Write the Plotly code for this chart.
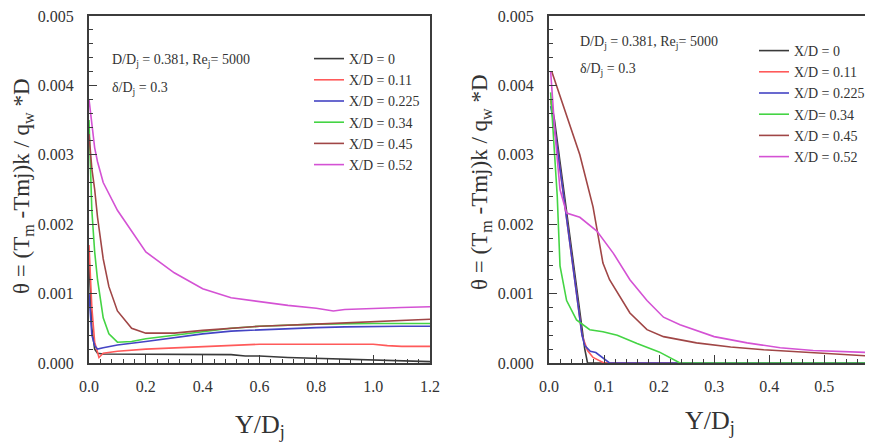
import plotly.graph_objects as go

# ---------------- data ----------------
series_names = ["X/D = 0", "X/D = 0.11", "X/D = 0.225", "X/D = 0.34", "X/D = 0.45", "X/D = 0.52"]
series_names_right = ["X/D = 0", "X/D = 0.11", "X/D = 0.225", "X/D= 0.34", "X/D = 0.45", "X/D = 0.52"]
colors = ["#3a3a3a", "#ff5a5a", "#4444c4", "#44d444", "#a04646", "#d452d4"]

# Left panel (Y/Dj 0 - 1.2)
L0_x = [0, 0.005, 0.01, 0.02, 0.03, 0.05, 0.1, 0.2, 0.3, 0.4, 0.5, 0.55, 0.6, 0.7, 0.8, 0.9, 1.0, 1.1, 1.2]
L0_y = [0.0015, 0.0009, 0.0005, 0.0002, 0.00014, 0.00013, 0.00013, 0.00013, 0.00013, 0.00012, 0.00012,
        0.0001, 0.0001, 0.00008, 0.00007, 0.00005, 0.00004, 0.00003, 0.00002]
L1_x = [0, 0.005, 0.01, 0.02, 0.035, 0.05, 0.08, 0.1, 0.2, 0.3, 0.4, 0.5, 0.6, 0.7, 0.8, 0.9, 1.0, 1.05, 1.1, 1.2]
L1_y = [0.0017, 0.0012, 0.0008, 0.0003, 0.00008, 0.00014, 0.00016, 0.00017, 0.0002, 0.00022, 0.00024,
        0.00025, 0.00027, 0.00027, 0.00027, 0.00027, 0.00027, 0.00025, 0.00024, 0.00024]
L2_x = [0, 0.005, 0.01, 0.02, 0.03, 0.05, 0.1, 0.2, 0.3, 0.4, 0.5, 0.6, 0.7, 0.8, 0.9, 1.0, 1.1, 1.2]
L2_y = [0.001, 0.0007, 0.0004, 0.00025, 0.0002, 0.00022, 0.00026, 0.00031, 0.00037, 0.00042, 0.00046,
        0.00048, 0.0005, 0.00051, 0.00052, 0.00053, 0.00053, 0.00053]
L3_x = [0, 0.005, 0.01, 0.02, 0.03, 0.05, 0.07, 0.1, 0.15, 0.2, 0.3, 0.4, 0.5, 0.6, 0.8, 1.0, 1.2]
L3_y = [0.0035, 0.0028, 0.0022, 0.0016, 0.0012, 0.00065, 0.00042, 0.0003, 0.00031, 0.00035, 0.0004,
        0.00046, 0.0005, 0.00053, 0.00056, 0.00057, 0.00057]
L4_x = [0, 0.005, 0.01, 0.02, 0.03, 0.05, 0.07, 0.1, 0.15, 0.2, 0.3, 0.4, 0.5, 0.6, 0.8, 1.0, 1.2]
L4_y = [0.0033, 0.003, 0.0028, 0.0025, 0.0021, 0.0015, 0.0011, 0.00075, 0.0005, 0.00043, 0.00043,
        0.00047, 0.0005, 0.00053, 0.00056, 0.0006, 0.00063]
L5_x = [0, 0.01, 0.02, 0.03, 0.05, 0.1, 0.15, 0.2, 0.3, 0.4, 0.5, 0.6, 0.7, 0.8, 0.86, 0.9, 1.0, 1.1, 1.2]
L5_y = [0.0038, 0.0034, 0.0031, 0.0029, 0.0026, 0.0022, 0.0019, 0.0016, 0.0013, 0.00107, 0.00094,
        0.00088, 0.00083, 0.00079, 0.00075, 0.00077, 0.00079, 0.0008, 0.00081]

# Right panel (Y/Dj 0 - 0.585)
R0_x = [0.003, 0.01, 0.02, 0.03, 0.04, 0.05, 0.06, 0.065, 0.07, 0.1, 0.585]
R0_y = [0.0038, 0.0035, 0.0029, 0.0023, 0.0017, 0.0011, 0.0005, 0.0002, 0.0, 0.0, 0.0]
R1_x = [0.003, 0.01, 0.02, 0.03, 0.04, 0.05, 0.06, 0.07, 0.08, 0.1, 0.585]
R1_y = [0.0038, 0.0034, 0.0028, 0.0022, 0.0016, 0.001, 0.0004, 0.00018, 0.00008, 0.0, 0.0]
R2_x = [0.003, 0.01, 0.02, 0.03, 0.04, 0.05, 0.06, 0.065, 0.075, 0.085, 0.1, 0.11, 0.585]
R2_y = [0.0037, 0.0034, 0.0028, 0.0022, 0.0016, 0.001, 0.0004, 0.00025, 0.00017, 0.00015, 0.00006, 0.0, 0.0]
R3_x = [0.003, 0.01, 0.015, 0.02, 0.032, 0.05, 0.074, 0.098, 0.124, 0.16, 0.2, 0.238, 0.585]
R3_y = [0.0039, 0.0031, 0.0024, 0.0014, 0.0009, 0.00062, 0.00048, 0.00045, 0.0004, 0.00028, 0.00016, 0.0, 0.0]
R4_x = [0.005, 0.056, 0.08, 0.098, 0.11, 0.147, 0.178, 0.208, 0.268, 0.33, 0.39, 0.45, 0.51, 0.585]
R4_y = [0.0042, 0.003, 0.00225, 0.00144, 0.0012, 0.00072, 0.00048, 0.00038, 0.00029, 0.00023, 0.00019,
        0.00016, 0.00014, 0.0001]
R5_x = [0.003, 0.011, 0.02, 0.032, 0.056, 0.087, 0.117, 0.147, 0.178, 0.208, 0.238, 0.3, 0.36, 0.42, 0.48, 0.585]
R5_y = [0.0042, 0.0033, 0.0025, 0.00216, 0.0021, 0.0019, 0.00158, 0.0012, 0.0009, 0.00066, 0.00055,
        0.00038, 0.00029, 0.00022, 0.00018, 0.00015]

left_series = [(L0_x, L0_y), (L1_x, L1_y), (L2_x, L2_y), (L3_x, L3_y), (L4_x, L4_y), (L5_x, L5_y)]
right_series = [(R0_x, R0_y), (R1_x, R1_y), (R2_x, R2_y), (R3_x, R3_y), (R4_x, R4_y), (R5_x, R5_y)]

# page body has an 8px margin; the figure fills the rest of the 873x447 window
OFF = 8
W, H = 873 - OFF, 447 - OFF
FONT = "Liberation Serif, Times New Roman, serif"
AX = "#3c3c3c"
TXT = "#333333"

fig = go.Figure()
for (x, y), name, c in zip(left_series, series_names, colors):
    fig.add_trace(go.Scatter(x=x, y=y, mode="lines", name=name, line=dict(color=c, width=1.6),
                             xaxis="x", yaxis="y", legend="legend"))
for (x, y), name, c in zip(right_series, series_names_right, colors):
    fig.add_trace(go.Scatter(x=x, y=y, mode="lines", name=name, line=dict(color=c, width=1.6),
                             xaxis="x2", yaxis="y2", legend="legend2"))

def px(v):
    return (v - OFF) / W

def py(v):
    return 1 - (v - OFF) / H

common = dict(showline=True, linecolor=AX, linewidth=2, mirror=True, ticks="inside",
              tickcolor=AX, tickwidth=1.2, ticklen=8, showgrid=False, zeroline=False,
              automargin=False, ticklabeloverflow="allow",
              tickfont=dict(family=FONT, size=16, color=TXT))

ydom = [py(363), py(16)]
fig.update_layout(
    template="none",
    width=W, height=H, margin=dict(l=0, r=0, t=0, b=0, pad=0),
    paper_bgcolor="white", plot_bgcolor="white", showlegend=True,
    xaxis=dict(domain=[px(89), px(430)], range=[0, 1.2], dtick=0.2, tickformat=".1f",
               ticklabelstandoff=8,
               minor=dict(dtick=0.04, ticks="inside", ticklen=4, tickcolor=AX), anchor="y", **common),
    yaxis=dict(domain=ydom, range=[0, 0.005], dtick=0.001, tickformat=".3f",
               ticklabelstandoff=10,
               minor=dict(dtick=0.0002, ticks="inside", ticklen=4, tickcolor=AX), anchor="x", **common),
    xaxis2=dict(domain=[px(549), px(871)], range=[0, 0.585], dtick=0.1, tickformat=".1f",
                ticklabelstandoff=8,
                minor=dict(dtick=0.02, ticks="inside", ticklen=4, tickcolor=AX), anchor="y2", **common),
    yaxis2=dict(domain=ydom, range=[0, 0.005], dtick=0.001, tickformat=".3f",
                ticklabelstandoff=10,
                minor=dict(dtick=0.0002, ticks="inside", ticklen=4, tickcolor=AX), anchor="x2", **common),
    legend=dict(x=px(309), y=py(43), xanchor="left", yanchor="top", bgcolor="rgba(0,0,0,0)",
                font=dict(family=FONT, size=14, color=TXT), itemwidth=30, tracegroupgap=0),
    legend2=dict(x=px(754), y=py(35), xanchor="left", yanchor="top", bgcolor="rgba(0,0,0,0)",
                 font=dict(family=FONT, size=14, color=TXT), itemwidth=30, tracegroupgap=0),
)

ytitle = "θ = (T<sub>m</sub> -Tmj)k / q<sub>w</sub> *D"
xtitle = "Y/D<sub>j</sub>"
anns = [
    dict(x=px(23), y=py(186), text=ytitle, textangle=-90, font=dict(family=FONT, size=23, color=TXT)),
    dict(x=px(481), y=py(182), text=ytitle, textangle=-90, font=dict(family=FONT, size=23, color=TXT)),
    dict(x=px(260), y=py(426), text=xtitle, font=dict(family=FONT, size=26, color=TXT)),
    dict(x=px(710), y=py(422), text=xtitle, font=dict(family=FONT, size=26, color=TXT)),
    dict(x=px(110), y=py(60), text="D/D<sub>j</sub> = 0.381, Re<sub>j</sub>= 5000", xanchor="left",
         font=dict(family=FONT, size=14, color=TXT)),
    dict(x=px(110), y=py(88), text="δ/D<sub>j</sub> = 0.3", xanchor="left",
         font=dict(family=FONT, size=14, color=TXT)),
    dict(x=px(578), y=py(42), text="D/D<sub>j</sub> = 0.381, Re<sub>j</sub>= 5000", xanchor="left",
         font=dict(family=FONT, size=14, color=TXT)),
    dict(x=px(578), y=py(70), text="δ/D<sub>j</sub> = 0.3", xanchor="left",
         font=dict(family=FONT, size=14, color=TXT)),
]
for a in anns:
    a.update(xref="paper", yref="paper", showarrow=False)
    a.setdefault("xanchor", "center")
    a.setdefault("yanchor", "middle")
fig.update_layout(annotations=anns)

fig.write_html("out.html")
